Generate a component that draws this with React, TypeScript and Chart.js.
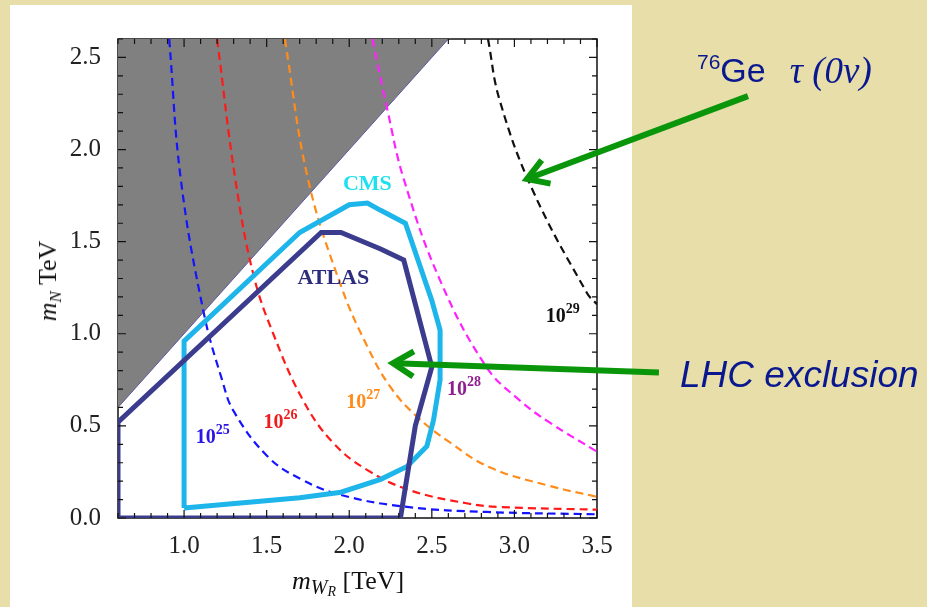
import React, { useEffect, useRef } from "react";
import { Chart, registerables } from "chart.js";
Chart.register(...registerables);

// ---- axes ----
const X_MIN = 0.6;
const X_MAX = 3.5;
const Y_MIN = 0;
const Y_MAX = 2.6;
const X_TICKS = [1.0, 1.5, 2.0, 2.5, 3.0, 3.5];
const Y_TICKS = [0.0, 0.5, 1.0, 1.5, 2.0, 2.5];

// ---- excluded region m_N > m_WR (gray) ----
const grayX = [0.6, 2.6];
const grayY = [0.6, 2.6];

// ---- half-life contours (dashed) ----
const c25X = [0.91, 0.98, 1.12, 1.23, 1.3, 1.51, 1.71, 1.95, 2.35, 2.83, 3.5];
const c25Y = [2.6, 1.84, 1.11, 0.75, 0.58, 0.33, 0.21, 0.125, 0.06, 0.033, 0.02];
const c26X = [1.2, 1.31, 1.42, 1.54, 1.72, 1.9, 2.11, 2.37, 2.71, 2.91, 3.5];
const c26Y = [2.6, 1.84, 1.32, 1.0, 0.64, 0.41, 0.26, 0.15, 0.08, 0.06, 0.045];
const c27X = [1.61, 1.75, 1.95, 2.11, 2.25, 2.41, 2.61, 2.85, 3.21, 3.5];
const c27Y = [2.6, 1.84, 1.26, 0.93, 0.71, 0.55, 0.41, 0.275, 0.175, 0.115];
const c28X = [2.14, 2.23, 2.33, 2.55, 2.83, 3.03, 3.21, 3.5];
const c28Y = [2.6, 2.22, 1.84, 1.29, 0.82, 0.64, 0.52, 0.36];
const c29X = [2.84, 2.91, 3.11, 3.44, 3.5];
const c29Y = [2.6, 2.27, 1.78, 1.22, 1.16];

// ---- LHC exclusion contours ----
const cmsX = [1.0, 1.0, 1.7, 2.0, 2.11, 2.19, 2.34, 2.5, 2.55, 2.55, 2.51, 2.47, 2.35, 2.19, 1.95, 1.7, 1.0];
const cmsY = [0.054, 0.96, 1.55, 1.7, 1.71, 1.67, 1.6, 1.18, 1.02, 0.75, 0.53, 0.39, 0.28, 0.21, 0.14, 0.11, 0.054];
const atlasX = [0.6, 1.83, 1.95, 2.19, 2.33, 2.5, 2.4, 2.31, 0.6, 0.6];
const atlasY = [0.52, 1.55, 1.55, 1.46, 1.4, 0.82, 0.5, 0.0, 0.0, 0.52];

// ---- contour labels (10^exp) ----
const labelExp = ["25", "26", "27", "28", "29"];
const labelX = [1.174, 1.584, 2.085, 2.695, 3.293];
const labelY = [0.45, 0.53, 0.64, 0.71, 1.11];
const labelColor = ["#2a14e6", "#ee1c1c", "#ff8c1a", "#8e1f8e", "#111111"];

// ---- experiment labels ----
const expNames = ["CMS", "ATLAS"];
const expX = [2.11, 1.904];
const expY = [1.81, 1.3];
const expColor = ["#1fe0f0", "#2d2d80"];

// ---- annotation arrows (tail -> head, data coords) ----
const arrowTailX = [4.414, 3.875];
const arrowTailY = [2.29, 0.79];
const arrowHeadX = [3.076, 2.265];
const arrowHeadY = [1.84, 0.84];

const zip = (xs: number[], ys: number[]) => xs.map((x, i) => ({ x, y: ys[i] }));

const SERIF = "'Liberation Serif', 'Times New Roman', serif";
const SANS = "'Liberation Sans', Arial, sans-serif";

const framePlugin = {
  id: "frame",
  beforeDatasetsDraw(chart: any) {
    const { ctx, chartArea } = chart;
    const { left, right, top, bottom } = chartArea;
    ctx.save();
    ctx.strokeStyle = "#111";
    ctx.lineWidth = 1.5;
    ctx.strokeRect(left, top, right - left, bottom - top);
    ctx.restore();
  },
  afterDatasetsDraw(chart: any) {
    const { ctx, chartArea, scales } = chart;
    const { left, right, top, bottom } = chartArea;
    const xs = scales.x;
    const ys = scales.y;
    ctx.save();
    ctx.strokeStyle = "#111";
    ctx.lineWidth = 1.2;
    ctx.beginPath();
    for (let i = 6; i <= 35; i++) {
      const px = xs.getPixelForValue(i / 10);
      const L = i % 5 === 0 ? 8 : 5;
      ctx.moveTo(px, bottom);
      ctx.lineTo(px, bottom - L);
      ctx.moveTo(px, top);
      ctx.lineTo(px, top + L);
    }
    for (let i = 0; i <= 26; i++) {
      const py = ys.getPixelForValue(i / 10);
      const L = i % 5 === 0 ? 8 : 5;
      ctx.moveTo(left, py);
      ctx.lineTo(left + L, py);
      ctx.moveTo(right, py);
      ctx.lineTo(right - L, py);
    }
    ctx.stroke();

    // contour labels
    for (let i = 0; i < labelExp.length; i++) {
      const cx = xs.getPixelForValue(labelX[i]);
      const cy = ys.getPixelForValue(labelY[i]);
      ctx.font = `bold 20px ${SERIF}`;
      const wb = ctx.measureText("10").width;
      ctx.font = `bold 14px ${SERIF}`;
      const we = ctx.measureText(labelExp[i]).width;
      const x0 = cx - (wb + we) / 2;
      ctx.fillStyle = labelColor[i];
      ctx.textBaseline = "alphabetic";
      ctx.textAlign = "left";
      ctx.font = `bold 20px ${SERIF}`;
      ctx.fillText("10", x0, cy + 8);
      ctx.font = `bold 14px ${SERIF}`;
      ctx.fillText(labelExp[i], x0 + wb, cy - 1);
    }
    // experiment labels
    for (let i = 0; i < expNames.length; i++) {
      ctx.font = `bold 22px ${SERIF}`;
      ctx.fillStyle = expColor[i];
      ctx.textAlign = "center";
      ctx.textBaseline = "middle";
      ctx.fillText(expNames[i], xs.getPixelForValue(expX[i]), ys.getPixelForValue(expY[i]));
    }
    ctx.restore();
  },
  afterDraw(chart: any) {
    const { ctx, scales } = chart;
    const xs = scales.x;
    const ys = scales.y;
    ctx.save();
    ctx.strokeStyle = "#0a960a";
    ctx.lineWidth = 6;
    ctx.lineCap = "butt";
    ctx.lineJoin = "miter";
    for (let i = 0; i < arrowTailX.length; i++) {
      const tx = xs.getPixelForValue(arrowTailX[i]);
      const ty = ys.getPixelForValue(arrowTailY[i]);
      const hx = xs.getPixelForValue(arrowHeadX[i]);
      const hy = ys.getPixelForValue(arrowHeadY[i]);
      const ang = Math.atan2(ty - hy, tx - hx);
      ctx.beginPath();
      ctx.moveTo(tx, ty);
      ctx.lineTo(hx + 2 * Math.cos(ang), hy + 2 * Math.sin(ang));
      ctx.stroke();
      const L = 24;
      const a = 0.55;
      ctx.beginPath();
      ctx.moveTo(hx + L * Math.cos(ang + a), hy + L * Math.sin(ang + a));
      ctx.lineTo(hx, hy);
      ctx.lineTo(hx + L * Math.cos(ang - a), hy + L * Math.sin(ang - a));
      ctx.stroke();
    }
    ctx.restore();
  },
};

export default function App() {
  const ref = useRef<HTMLCanvasElement | null>(null);
  useEffect(() => {
    if (!ref.current) return;
    const dashed = (xs: number[], ys: number[], color: string) => ({
      data: zip(xs, ys),
      showLine: true,
      borderColor: color,
      borderWidth: 2.2,
      borderDash: [8, 5],
      pointRadius: 0,
      tension: 0.4,
      fill: false,
    });
    const chart = new Chart(ref.current, {
      type: "scatter",
      data: {
        datasets: [
          {
            label: "ATLAS",
            data: zip(atlasX, atlasY),
            showLine: true,
            borderColor: "#3c3c8e",
            borderWidth: 5,
            pointRadius: 0,
            tension: 0,
            fill: false,
          },
          {
            label: "CMS",
            data: zip(cmsX, cmsY),
            showLine: true,
            borderColor: "#1eb6ea",
            borderWidth: 5,
            pointRadius: 0,
            tension: 0,
            fill: false,
          },
          { label: "1e29", ...dashed(c29X, c29Y, "#111111") },
          { label: "1e28", ...dashed(c28X, c28Y, "#ff22ff") },
          { label: "1e27", ...dashed(c27X, c27Y, "#ff8c1a") },
          { label: "1e26", ...dashed(c26X, c26Y, "#ff1a1a") },
          { label: "1e25", ...dashed(c25X, c25Y, "#1414ff") },
          {
            label: "mN > mWR",
            data: zip(grayX, grayY),
            showLine: true,
            borderColor: "#5a5aa0",
            borderWidth: 1,
            backgroundColor: "#808080",
            pointRadius: 0,
            fill: "end",
          },
        ],
      } as any,
      options: {
        animation: false,
        responsive: false,
        devicePixelRatio: 1,
        events: [],
        layout: { padding: { left: 0, top: 39, right: 330, bottom: 0 } },
        plugins: { legend: { display: false }, tooltip: { enabled: false } },
        scales: {
          x: {
            type: "linear",
            min: X_MIN,
            max: X_MAX,
            afterBuildTicks: (s: any) => {
              s.ticks = X_TICKS.map((v) => ({ value: v }));
            },
            afterFit: (s: any) => {
              s.height = 89;
            },
            grid: { display: false },
            border: { display: false },
            ticks: {
              font: { family: "Liberation Serif", size: 25 },
              color: "#222",
              padding: 5,
              maxRotation: 0,
              autoSkip: false,
              callback: (v: any) => Number(v).toFixed(1),
            },
          },
          y: {
            type: "linear",
            min: Y_MIN,
            max: Y_MAX,
            afterBuildTicks: (s: any) => {
              s.ticks = Y_TICKS.map((v) => ({ value: v }));
            },
            afterFit: (s: any) => {
              s.width = 118;
            },
            grid: { display: false },
            border: { display: false },
            ticks: {
              font: { family: "Liberation Serif", size: 25 },
              color: "#222",
              padding: 9,
              autoSkip: false,
              callback: (v: any) => Number(v).toFixed(1),
            },
          },
        },
      } as any,
      plugins: [framePlugin],
    });
    return () => chart.destroy();
  }, []);

  return (
    <div
      style={{
        position: "absolute",
        left: 0,
        top: 0,
        width: 927,
        height: 607,
        background: "#E8DEA9",
        overflow: "hidden",
      }}
    >
      <div style={{ position: "absolute", left: 10, top: 5, width: 622, height: 602, background: "#ffffff" }} />
      <canvas
        ref={ref}
        width={927}
        height={607}
        style={{ position: "absolute", left: 0, top: 0, width: 927, height: 607, display: "block" }}
      />
      {/* x axis title */}
      <div
        style={{
          position: "absolute",
          left: 292,
          top: 568,
          fontFamily: SERIF,
          fontSize: 26,
          lineHeight: 1,
          color: "#111",
          whiteSpace: "nowrap",
        }}
      >
        <i>m</i>
        <span style={{ fontSize: 20, fontStyle: "italic", position: "relative", top: 5 }}>
          W<span style={{ fontSize: 14, position: "relative", top: 2 }}>R</span>
        </span>{" "}
        [TeV]
      </div>
      {/* y axis title */}
      <div
        style={{
          position: "absolute",
          left: 48,
          top: 281,
          transform: "translate(-50%, -50%) rotate(-90deg)",
          fontFamily: SERIF,
          fontSize: 26,
          lineHeight: 1,
          color: "#111",
          whiteSpace: "nowrap",
        }}
      >
        <i>m</i>
        <span style={{ fontSize: 17, fontStyle: "italic", position: "relative", top: 5 }}>N</span>
        {"  "}TeV
      </div>
      {/* 76Ge annotation */}
      <div
        style={{
          position: "absolute",
          left: 697,
          top: 51,
          fontFamily: SANS,
          fontSize: 34,
          lineHeight: 1,
          color: "#0a1890",
          whiteSpace: "nowrap",
        }}
      >
        <span style={{ fontSize: 21, position: "relative", top: -13 }}>76</span>
        <span>Ge</span>
        <span style={{ fontFamily: SERIF, fontStyle: "italic", fontSize: 37, marginLeft: 24, position: "relative", top: 1 }}>
          τ (0ν)
        </span>
      </div>
      {/* LHC exclusion */}
      <div
        style={{
          position: "absolute",
          left: 680,
          top: 356,
          fontFamily: SANS,
          fontStyle: "italic",
          fontSize: 37,
          lineHeight: 1,
          color: "#0a1890",
          whiteSpace: "nowrap",
        }}
      >
        LHC exclusion
      </div>
    </div>
  );
}
